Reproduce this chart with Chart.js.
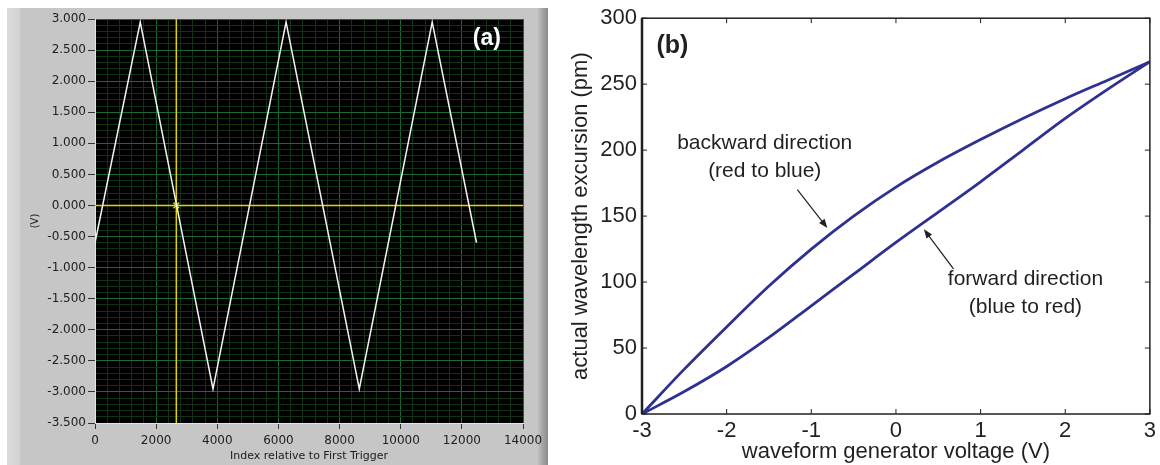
<!DOCTYPE html>
<html>
<head>
<meta charset="utf-8">
<script src="https://cdn.jsdelivr.net/npm/chart.js@4.4.1/dist/chart.umd.min.js"></script>
<style>
html, body { margin: 0; padding: 0; background: #fff; }
#wrap { position: relative; width: 1160px; height: 465px; overflow: hidden; }
#frameA { position: absolute; left: 7px; top: 8px; width: 541px; height: 457px;
  background: linear-gradient(to right, #dcdcdc 0px, #d2d2d2 12px, #c6c6c6 14px, #c6c6c6 530px, #a8a8a8 535px, #8c8c8c 541px); }
#boxA { position: absolute; left: 0; top: 0; }
#boxB { position: absolute; left: 550px; top: 0; }
</style>
</head>
<body>
<div id="wrap">
  <div id="frameA"></div>
  <canvas id="boxA" width="548" height="465"></canvas>
  <canvas id="boxB" width="610" height="465"></canvas>
</div>
<script>
// (a) scope trace, corners of the triangle wave
var sampleIndex = [0, 1480, 3860, 6250, 8645, 11030, 12480];
var traceVolts  = [-0.6, 2.95, -2.95, 2.95, -2.95, 2.95, -0.6];
var cursorIndex = 2660;
var cursorVolts = 0;

// (b) hysteresis loop
var genVoltage = [-3, -2.5, -2, -1.5, -1, -0.5, 0, 0.5, 1, 1.5, 2, 2.5, 3];
var backwardPm = [0, 34, 66, 97, 125, 150, 172, 191, 208, 224, 239, 253, 267];
var forwardPm  = [0, 17, 36, 58, 82, 106, 130, 153, 176, 200, 224, 246, 267];

function pts(xs, ys) {
  return xs.map(function(x, i) { return {x: x, y: ys[i]}; });
}
function isMult(v, m) {
  var q = v / m;
  return Math.abs(q - Math.round(q)) < 1e-6;
}

// ---------- panel (a) ----------
var scopePlugin = {
  id: 'scope',
  beforeDraw: function(chart) {
    var a = chart.chartArea, c = chart.ctx;
    c.save();
    c.fillStyle = '#000';
    c.fillRect(a.left, a.top, a.right - a.left, a.bottom - a.top);
    c.restore();
  },
  afterDraw: function(chart) {
    var c = chart.ctx, sx = chart.scales.x, sy = chart.scales.y;
    c.save();
    c.fillStyle = '#fff';
    c.font = 'bold 23px "Liberation Sans", Arial, sans-serif';
    c.textBaseline = 'middle';
    c.fillText('(a)', sx.getPixelForValue(12360), sy.getPixelForValue(2.68));
    c.restore();
  }
};

var fontA = '"DejaVu Sans", Verdana, sans-serif';

new Chart(document.getElementById('boxA'), {
  type: 'scatter',
  data: {
    datasets: [{
      data: pts(sampleIndex, traceVolts),
      showLine: true,
      borderColor: '#f4f4f4',
      borderWidth: 1.5,
      pointRadius: 0
    }, {
      data: [{x: cursorIndex, y: cursorVolts}],
      pointStyle: 'crossRot',
      pointRadius: 4,
      borderColor: '#c8d820',
      borderWidth: 1.5
    }, {
      data: [{x: cursorIndex, y: -3.5}, {x: cursorIndex, y: 3}],
      showLine: true,
      borderColor: '#e0d400',
      borderWidth: 1.5,
      pointRadius: 0
    }, {
      data: [{x: 0, y: cursorVolts}, {x: 14000, y: cursorVolts}],
      showLine: true,
      borderColor: '#e0d400',
      borderWidth: 1.5,
      pointRadius: 0
    }]
  },
  options: {
    responsive: false,
    animation: false,
    layout: { padding: { left: 25, right: 25, top: 19, bottom: 0 } },
    plugins: { legend: { display: false }, tooltip: { enabled: false } },
    scales: {
      x: {
        type: 'linear', min: 0, max: 14000,
        afterFit: function(s) { s.height = 42; },
        border: { color: '#e6e6e6', width: 1 },
        grid: {
          color: function(ctx) { return isMult(ctx.tick.value, 2000) ? '#1b6a34' : '#103316'; },
          tickColor: function(ctx) { return isMult(ctx.tick.value, 2000) ? '#333' : 'rgba(0,0,0,0)'; },
          tickLength: 6,
          lineWidth: 1
        },
        ticks: {
          stepSize: 400, maxTicksLimit: 100, autoSkip: false, maxRotation: 0,
          padding: 5, color: '#202020',
          font: { family: fontA, size: 12 },
          callback: function(v) { return isMult(v, 2000) ? String(v) : ''; }
        },
        title: {
          display: true, text: 'Index relative to First Trigger', color: '#202020',
          padding: { top: 0, bottom: 2 },
          font: { family: fontA, size: 11 }
        }
      },
      y: {
        type: 'linear', min: -3.5, max: 3,
        afterFit: function(s) { s.width = 70; },
        border: { color: '#e6e6e6', width: 1 },
        grid: {
          color: function(ctx) { return isMult(ctx.tick.value, 0.5) ? '#1b6a34' : '#103316'; },
          tickColor: function(ctx) { return isMult(ctx.tick.value, 0.5) ? '#333' : 'rgba(0,0,0,0)'; },
          tickLength: 7,
          lineWidth: 1
        },
        ticks: {
          stepSize: 0.1, maxTicksLimit: 100, autoSkip: false,
          padding: 2, color: '#202020',
          font: { family: fontA, size: 12 },
          callback: function(v) { return isMult(v, 0.5) ? v.toFixed(3) : ''; }
        },
        title: {
          display: true, text: '(V)', color: '#202020',
          padding: { top: 4, bottom: 0 },
          font: { family: fontA, size: 10 }
        }
      }
    }
  },
  plugins: [scopePlugin]
});

// ---------- panel (b) ----------
var ink = '#231f20';
var sansB = '"Liberation Sans", Arial, Helvetica, sans-serif';

function arrow(c, x1, y1, x2, y2) {
  var ang = Math.atan2(y2 - y1, x2 - x1), L = 9, W = 3.5;
  c.beginPath(); c.moveTo(x1, y1); c.lineTo(x2 - L * Math.cos(ang) * 0.7, y2 - L * Math.sin(ang) * 0.7); c.stroke();
  c.beginPath();
  c.moveTo(x2, y2);
  c.lineTo(x2 - L * Math.cos(ang) + W * Math.sin(ang), y2 - L * Math.sin(ang) - W * Math.cos(ang));
  c.lineTo(x2 - L * Math.cos(ang) - W * Math.sin(ang), y2 - L * Math.sin(ang) + W * Math.cos(ang));
  c.closePath(); c.fill();
}

var loopPlugin = {
  id: 'loop',
  afterDraw: function(chart) {
    var c = chart.ctx, a = chart.chartArea, sx = chart.scales.x, sy = chart.scales.y;
    c.save();
    c.strokeStyle = ink; c.fillStyle = ink;
    // box with inward ticks
    c.lineWidth = 1.5;
    c.strokeRect(a.left, a.top, a.right - a.left, a.bottom - a.top);
    c.lineWidth = 2.5;
    c.beginPath(); c.moveTo(a.left, a.top); c.lineTo(a.left, a.bottom); c.stroke();
    c.lineWidth = 1;
    sx.ticks.forEach(function(t) {
      var p = sx.getPixelForValue(t.value);
      c.beginPath(); c.moveTo(p, a.bottom); c.lineTo(p, a.bottom - 5);
      c.moveTo(p, a.top); c.lineTo(p, a.top + 5); c.stroke();
    });
    sy.ticks.forEach(function(t) {
      var p = sy.getPixelForValue(t.value);
      c.beginPath(); c.moveTo(a.left, p); c.lineTo(a.left + 5, p);
      c.moveTo(a.right, p); c.lineTo(a.right - 5, p); c.stroke();
    });
    // labels
    c.textAlign = 'left'; c.textBaseline = 'middle';
    c.font = 'bold 25px ' + sansB;
    c.fillText('(b)', sx.getPixelForValue(-2.83), sy.getPixelForValue(279));
    c.font = '21px ' + sansB;
    c.textAlign = 'center';
    c.fillText('backward direction', sx.getPixelForValue(-1.55), sy.getPixelForValue(205));
    c.fillText('(red to blue)', sx.getPixelForValue(-1.55), sy.getPixelForValue(184));
    c.fillText('forward direction', sx.getPixelForValue(1.53), sy.getPixelForValue(102));
    c.fillText('(blue to red)', sx.getPixelForValue(1.53), sy.getPixelForValue(81));
    c.lineWidth = 1.2;
    arrow(c, sx.getPixelForValue(-1.165), sy.getPixelForValue(170), sx.getPixelForValue(-0.81), sy.getPixelForValue(141));
    arrow(c, sx.getPixelForValue(0.68), sy.getPixelForValue(110), sx.getPixelForValue(0.33), sy.getPixelForValue(140));
    c.restore();
  }
};

new Chart(document.getElementById('boxB'), {
  type: 'scatter',
  data: {
    datasets: [{
      label: 'backward direction',
      data: pts(genVoltage, backwardPm),
      showLine: true, cubicInterpolationMode: 'monotone',
      borderColor: '#2e3192', borderWidth: 2.8, pointRadius: 0
    }, {
      label: 'forward direction',
      data: pts(genVoltage, forwardPm),
      showLine: true, cubicInterpolationMode: 'monotone',
      borderColor: '#2e3192', borderWidth: 2.8, pointRadius: 0
    }]
  },
  options: {
    responsive: false,
    animation: false,
    layout: { padding: { left: 13, right: 9, top: 13, bottom: 0 } },
    plugins: { legend: { display: false }, tooltip: { enabled: false } },
    scales: {
      x: {
        type: 'linear', min: -3, max: 3,
        afterFit: function(s) { s.height = 51; },
        border: { display: false },
        grid: { display: false, drawTicks: false },
        ticks: {
          stepSize: 1, padding: 4, color: ink, maxRotation: 0,
          font: { family: sansB, size: 22 }
        },
        title: {
          display: true, text: 'waveform generator voltage (V)', color: ink,
          padding: { top: 0, bottom: 0 },
          font: { family: sansB, size: 22 }
        }
      },
      y: {
        type: 'linear', min: 0, max: 300,
        afterFit: function(s) { s.width = 79; },
        border: { display: false },
        grid: { display: false, drawTicks: false },
        ticks: {
          stepSize: 50, padding: 5, color: ink,
          font: { family: sansB, size: 22 }
        },
        title: {
          display: true, text: 'actual wavelength excursion (pm)', color: ink,
          padding: { top: 5, bottom: 0 },
          font: { family: sansB, size: 22 }
        }
      }
    }
  },
  plugins: [loopPlugin]
});
</script>
</body>
</html>
